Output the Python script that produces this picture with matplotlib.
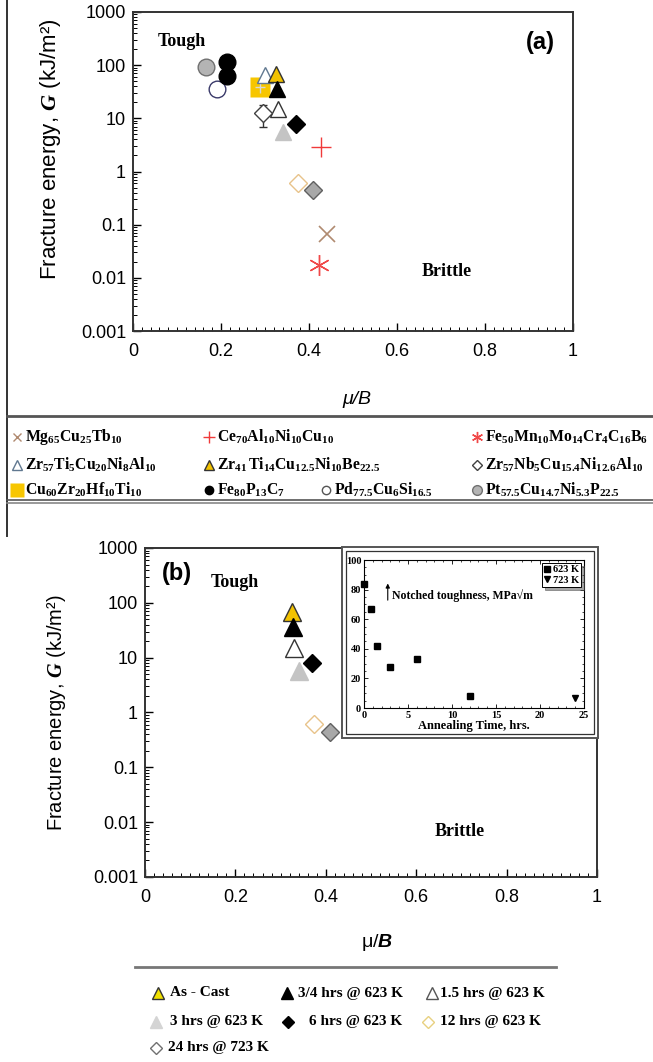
import matplotlib.pyplot as plt
from matplotlib.patches import Rectangle
from matplotlib.ticker import MultipleLocator, LogLocator, NullFormatter

plt.rcParams["font.family"] = ["Liberation Sans", "DejaVu Sans"]
plt.rcParams["mathtext.fontset"] = "custom"
plt.rcParams["mathtext.rm"] = "Liberation Serif:bold"
plt.rcParams["mathtext.bf"] = "Liberation Serif:bold"
plt.rcParams["mathtext.it"] = "Liberation Serif:italic:bold"
plt.rcParams["mathtext.sf"] = "Liberation Sans:italic:bold"

# ---- data, panel (a): alloys ----
alloy_names = [
    r"$\mathrm{Mg_{65}Cu_{25}Tb_{10}}$",
    r"$\mathrm{Ce_{70}Al_{10}Ni_{10}Cu_{10}}$",
    r"$\mathrm{Fe_{50}Mn_{10}Mo_{14}Cr_{4}C_{16}B_{6}}$",
    r"$\mathrm{Zr_{57}Ti_{5}Cu_{20}Ni_{8}Al_{10}}$",
    r"$\mathrm{Zr_{41}\,Ti_{14}Cu_{12.5}Ni_{10}Be_{22.5}}$",
    r"$\mathrm{Zr_{57}Nb_{5}Cu_{15.4}Ni_{12.6}Al_{10}}$",
    r"$\mathrm{Cu_{60}Zr_{20}Hf_{10}Ti_{10}}$",
    r"$\mathrm{Fe_{80}P_{13}C_{7}}$",
    r"$\mathrm{Pd_{77.5}Cu_{6}Si_{16.5}}$",
    r"$\mathrm{Pt_{57.5}Cu_{14.7}Ni_{5.3}P_{22.5}}$",
]
mu_B_mg = [0.44]
G_mg = [0.068]
mu_B_ce = [0.427]
G_ce = [2.9]
mu_B_fe50 = [0.423]
G_fe50 = [0.0175]
mu_B_zr57ti = [0.30]
G_zr57ti = [65]
mu_B_zr57nb = [0.296]
G_zr57nb = [12.6]
G_zr57nb_lo = [6.9]
G_zr57nb_hi = [17.8]
mu_B_cu60 = [0.289]
G_cu60 = [39]
mu_B_fe80 = [0.214, 0.214]
G_fe80 = [115, 62]
mu_B_pd = [0.19]
G_pd = [36]
mu_B_pt = [0.166]
G_pt = [93]

# ---- data, annealed Vitreloy 1 (both panels) ----
anneal_labels = ["As - Cast", "3/4 hrs @ 623 K", "1.5 hrs @ 623 K", "3 hrs @ 623 K",
                 "6 hrs @ 623 K", "12 hrs @ 623 K", "24 hrs @ 723 K"]
anneal_mu_B = [0.325, 0.328, 0.330, 0.34, 0.37, 0.374, 0.41]
anneal_G = [68, 36, 15, 5.6, 7.9, 0.61, 0.44]

# ---- inset data ----
time_623 = [0, 0.75, 1.5, 3, 6, 12]
tough_623 = [84, 67, 42, 28, 33, 8]
time_723 = [24]
tough_723 = [7]

y_ticks = [0.001, 0.01, 0.1, 1, 10, 100, 1000]
y_ticklabels = ["0.001", "0.01", "0.1", "1", "10", "100", "1000"]
x_ticks = [0, 0.2, 0.4, 0.6, 0.8, 1]
x_ticklabels = ["0", "0.2", "0.4", "0.6", "0.8", "1"]

anneal_style = [
    dict(marker="^", mfc="#f2c200", mec="#333333"),
    dict(marker="^", mfc="black", mec="black"),
    dict(marker="^", mfc="white", mec="#333333"),
    dict(marker="^", mfc="#c4c4c4", mec="#c4c4c4"),
    dict(marker="D", mfc="black", mec="black"),
    dict(marker="D", mfc="white", mec="#e8c38a"),
    dict(marker="D", mfc="#a8a8a8", mec="#606060"),
]

W, H = 653, 1062
fig = plt.figure(figsize=(W / 100, H / 100), dpi=100)


def px_axes(l, t, r, b):
    return fig.add_axes([l / W, 1 - b / H, (r - l) / W, (b - t) / H])


def style_main(ax, fs):
    ax.set_xlim(0, 1)
    ax.set_yscale("log")
    ax.set_ylim(0.001, 1000)
    ax.set_yticks(y_ticks)
    ax.set_yticklabels(y_ticklabels)
    ax.yaxis.set_minor_locator(LogLocator(base=10, subs=range(2, 10), numticks=20))
    ax.yaxis.set_minor_formatter(NullFormatter())
    ax.set_xticks(x_ticks)
    ax.set_xticklabels(x_ticklabels)
    ax.xaxis.set_minor_locator(MultipleLocator(0.02))
    ax.tick_params(which="both", direction="in", top=False, right=False, labelsize=fs)
    ax.tick_params(which="major", length=6, width=1)
    ax.tick_params(which="minor", length=3, width=0.7)
    ax.tick_params(axis="y", pad=5)
    ax.tick_params(axis="x", pad=9)
    for s in ax.spines.values():
        s.set_color("#333333")
        s.set_linewidth(1.4)


# ---------------- panel (a) ----------------
ax = px_axes(133, 12, 573, 331)
style_main(ax, 13)
ax.plot(mu_B_pt, G_pt, "o", ms=12, mfc="#b4b4b4", mec="#707070", mew=1)
ax.plot(mu_B_pd, G_pd, "o", ms=12, mfc="white", mec="#3a3a6a", mew=1)
ax.plot(mu_B_fe80, G_fe80, "o", ms=12, color="black")
ax.plot(mu_B_cu60, G_cu60, "s", ms=14, color="#f7c600", mec="none")
ax.errorbar(mu_B_cu60, G_cu60, xerr=0.012, yerr=[[9], [12]], fmt="none",
            ecolor="#d8d8d8", elinewidth=1)
ax.plot(mu_B_zr57ti, G_zr57ti, "^", ms=12, mfc="white", mec="#607890", mew=1)
ax.errorbar(mu_B_zr57nb, G_zr57nb,
            yerr=[[G_zr57nb[0] - G_zr57nb_lo[0]], [G_zr57nb_hi[0] - G_zr57nb[0]]],
            fmt="D", ms=9, mfc="white", mec="#404040", mew=1, ecolor="#333333",
            elinewidth=1, capsize=3)
for x, y, st in zip(anneal_mu_B, anneal_G, anneal_style):
    ax.plot([x], [y], ls="none", ms=12 if st["marker"] == "^" else 9, mew=1, **st)
ax.plot(mu_B_ce, G_ce, "+", ms=15, color="#f03a3a", mew=1)
ax.plot(mu_B_mg, G_mg, "x", ms=12, color="#b08a70", mew=1.2)
ax.plot(mu_B_fe50, G_fe50, marker=(6, 2, 0), ls="none", ms=15, color="#f04848", mew=1)

ax.text(0.111, 0.906, "Tough", transform=ax.transAxes, ha="center", va="center",
        family="Liberation Serif", weight="bold", fontsize=13)
ax.text(0.714, 0.185, "Brittle", transform=ax.transAxes, ha="center", va="center",
        family="Liberation Serif", weight="bold", fontsize=13)
ax.text(0.925, 0.903, "(a)", transform=ax.transAxes, ha="center", va="center",
        weight="bold", fontsize=17)
ax.set_ylabel("Fracture energy, $G$ (kJ/m²)", fontsize=16)
ax.yaxis.set_label_coords(-0.158, 0.57)
ax.set_xlabel("μ/B", fontsize=14, style="italic")
ax.xaxis.set_label_coords(0.509, -0.188)

# ---------------- panel (b) ----------------
bx = px_axes(145, 548, 597, 877)
style_main(bx, 13)
for x, y, st in zip(anneal_mu_B, anneal_G, anneal_style):
    bx.plot([x], [y], ls="none", ms=13 if st["marker"] == "^" else 9.5, mew=1, **st)
bx.text(0.071, 0.924, "(b)", transform=bx.transAxes, ha="center", va="center",
        weight="bold", fontsize=17)
bx.text(0.199, 0.894, "Tough", transform=bx.transAxes, ha="center", va="center",
        family="Liberation Serif", weight="bold", fontsize=13)
bx.text(0.697, 0.137, "Brittle", transform=bx.transAxes, ha="center", va="center",
        family="Liberation Serif", weight="bold", fontsize=13)
bx.set_ylabel("Fracture energy, $G$ (kJ/m²)", fontsize=14.5)
bx.yaxis.set_label_coords(-0.17, 0.5)
bx.set_xlabel(r"μ/$\mathsf{B}$", fontsize=14)
bx.xaxis.set_label_coords(0.513, -0.167)

# ---------------- overlay: frames and legends ----------------
ov = fig.add_axes([0, 0, 1, 1], zorder=5)
ov.set_xlim(0, W)
ov.set_ylim(H, 0)
ov.axis("off")
ov.plot([7, 7], [0, 536], color="#333333", lw=1.4)
ov.plot([7, W], [416, 416], color="#555555", lw=2)
ov.plot([7, W], [500, 500], color="#555555", lw=1.2)
ov.plot([7, W], [503, 503], color="#888888", lw=1.2)
ov.plot([135, 556], [967, 967], color="#777777", lw=2)

ov.add_patch(Rectangle((342, 547), 256, 191, fc="white", ec="#555555", lw=1.4))
ov.add_patch(Rectangle((346, 551), 248, 183, fc="white", ec="#333333", lw=0.9))

leg_a_pos = [(17, 437), (209, 437), (477, 437),
             (17, 465), (209, 465), (477, 465),
             (17, 490), (209, 490), (326, 490), (477, 490)]
leg_a_mark = [
    dict(marker="x", color="#b08a70", ms=6, mew=1),
    dict(marker="+", color="#f03a3a", ms=9, mew=1),
    dict(marker=(6, 2, 0), color="#f04848", ms=8, mew=1),
    dict(marker="^", mfc="white", mec="#607890", ms=7, mew=1),
    dict(marker="^", mfc="#f2c200", mec="#333333", ms=7, mew=1),
    dict(marker="D", mfc="white", mec="#404040", ms=5, mew=1),
    dict(marker="s", color="#f7c600", mec="none", ms=10),
    dict(marker="o", color="black", ms=6),
    dict(marker="o", mfc="white", mec="#555555", ms=6, mew=1),
    dict(marker="o", mfc="#b4b4b4", mec="#707070", ms=7, mew=1),
]
for (x, y), st, name in zip(leg_a_pos, leg_a_mark, alloy_names):
    ov.plot([x], [y], ls="none", **st)
    ov.text(x + 8, y, name, fontsize=11.3, va="center", ha="left")

leg_b_pos = [(158, 993), (287, 993), (432, 993),
             (156, 1022), (288, 1022), (428, 1022), (156, 1048)]
leg_b_text_x = [170, 298, 440, 170, 309, 440, 168]
leg_b_mark = [
    dict(marker="^", mfc="#f0e000", mec="#333333", ms=8, mew=1),
    dict(marker="^", color="black", ms=8),
    dict(marker="^", mfc="white", mec="#555555", ms=8, mew=1),
    dict(marker="^", color="#d4d4d4", ms=8),
    dict(marker="D", color="black", ms=6),
    dict(marker="D", mfc="white", mec="#e8d080", ms=6, mew=1),
    dict(marker="D", mfc="white", mec="#707070", ms=6, mew=1),
]
for (x, y), tx, st, name in zip(leg_b_pos, leg_b_text_x, leg_b_mark, anneal_labels):
    ov.plot([x], [y], ls="none", **st)
    ov.text(tx, y, name, fontsize=11, va="center", ha="left",
            family="Liberation Serif", weight="bold")

# ---------------- inset ----------------
ins = px_axes(364, 560, 584, 708)
ins.set_zorder(10)
ins.plot(time_623, tough_623, "s", color="black", ms=5, clip_on=False, label="623 K")
ins.plot(time_723, tough_723, "v", color="black", ms=5, clip_on=False, label="723 K")
ins.set_xlim(0, 25)
ins.set_ylim(0, 100)
ins.xaxis.set_major_locator(MultipleLocator(5))
ins.xaxis.set_minor_locator(MultipleLocator(1))
ins.yaxis.set_major_locator(MultipleLocator(20))
ins.yaxis.set_minor_locator(MultipleLocator(5))
ins.tick_params(which="both", direction="in", top=True, right=True, labelsize=7.5, pad=2)
ins.tick_params(which="major", length=3, width=0.6)
ins.tick_params(which="minor", length=1.5, width=0.5)
for lab in ins.get_xticklabels() + ins.get_yticklabels():
    lab.set_family("Liberation Serif")
    lab.set_weight("bold")
for s in ins.spines.values():
    s.set_linewidth(0.8)
ins.set_xlabel("Annealing Time, hrs.", family="Liberation Serif", weight="bold",
               fontsize=9, labelpad=0)
ins.annotate("", xy=(2.7, 86), xytext=(2.7, 71),
             arrowprops=dict(arrowstyle="-|>", color="black", lw=0.8, mutation_scale=6))
ins.text(3.2, 76, "Notched toughness, MPa√m", family="Liberation Serif",
         weight="bold", fontsize=8.5, va="center")
leg = ins.legend(loc="upper right", fontsize=7, handlelength=0.6, handletextpad=0.2,
                 borderpad=0.2, labelspacing=0.1, borderaxespad=0.3, fancybox=False,
                 shadow=True, markerscale=0.8,
                 prop=dict(family="Liberation Serif", weight="bold", size=7.5))
leg.get_frame().set_edgecolor("black")
leg.get_frame().set_linewidth(0.7)

fig.savefig("out.png", dpi=100)
